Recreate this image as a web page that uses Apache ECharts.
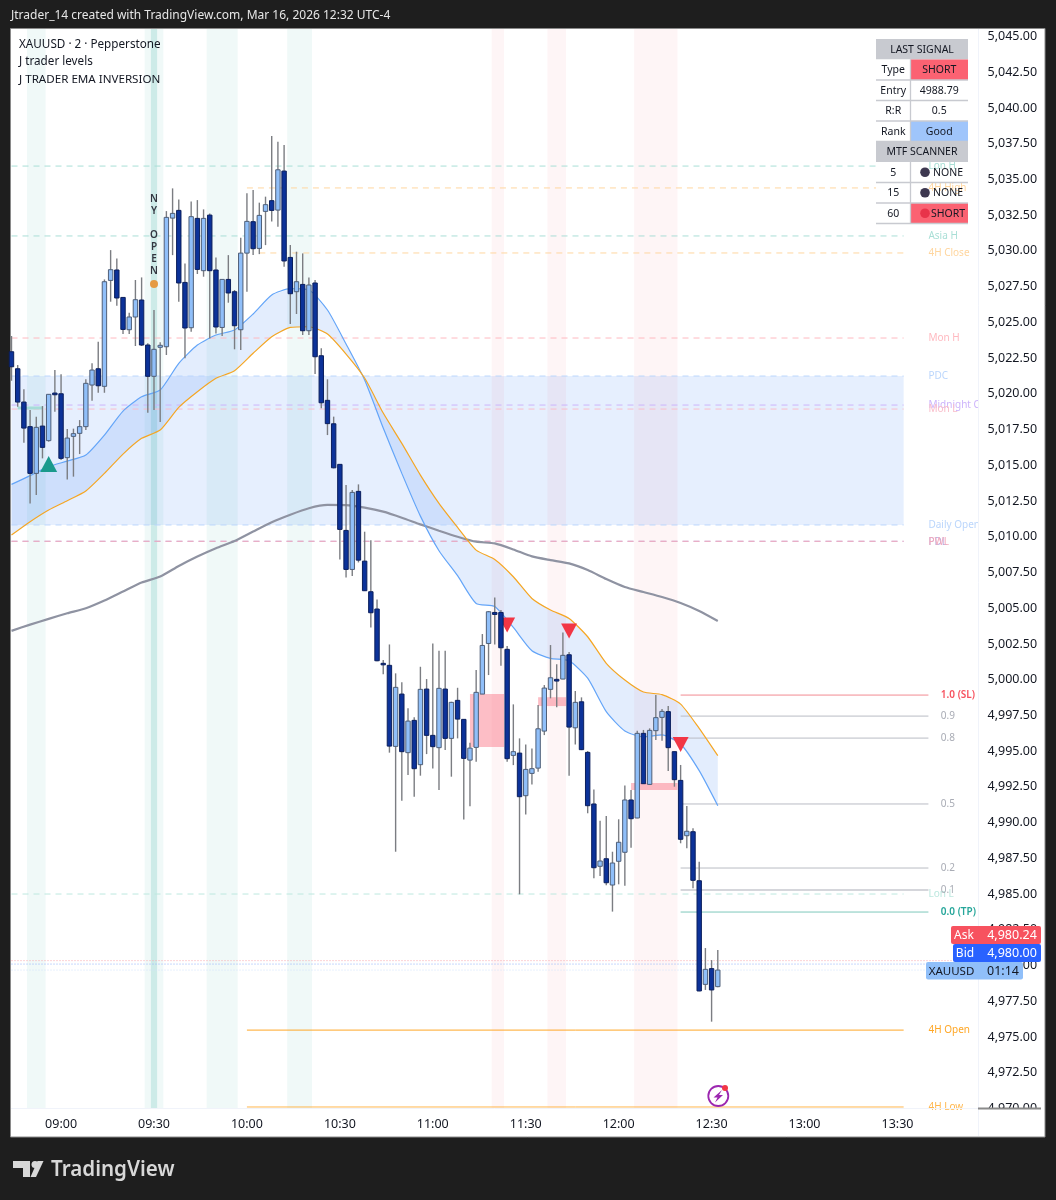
<!DOCTYPE html>
<html>
<head>
<meta charset="utf-8">
<title>XAUUSD</title>
<script src="https://cdn.jsdelivr.net/npm/echarts@6/dist/echarts.min.js"></script>
<style>
html, body { margin: 0; padding: 0; background: #1e1e1e; }
#chart { width: 1056px; height: 1200px; }
</style>
</head>
<body>
<div id="chart"></div>
<script>
var FONT = '"Noto Sans", sans-serif';

// candles, one row per 2 minute bar, first bar is 08:44
var opens = [5022.84,5021.65,5019.32,5017.60,5014.33,5017.64,5016.62,5019.95,5019.90,5015.43,
  5016.92,5017.13,5017.60,5020.51,5021.65,5020.42,5027.83,5028.56,5026.64,5024.38,
  5025.27,5026.46,5023.31,5021.12,5023.15,5023.19,5032.19,5032.73,5027.69,5024.52,
  5032.17,5028.51,5032.40,5028.56,5024.54,5027.90,5027.04,5024.38,5029.74,5031.94,
  5030.07,5032.66,5033.41,5032.75,5035.48,5029.44,5027.04,5027.55,5024.31,5027.65,
  5022.56,5019.44,5017.80,5014.96,5010.34,5007.61,5013.07,5008.19,5006.05,5004.84,
  5001.04,5000.90,4995.23,4998.89,4994.79,4997.05,4993.95,4999.24,4996.00,4995.14,
  4999.24,4995.79,4998.45,4997.12,4994.27,4995.16,4998.89,5002.43,5004.60,5004.60,
  5002.02,4994.60,4994.76,4991.78,4993.34,4993.71,4996.30,4999.22,4999.92,4999.94,
  5001.64,4996.53,4998.35,4994.81,4991.20,4986.84,4987.37,4985.53,4987.19,4987.82,
  4991.48,4990.22,4996.14,4992.57,4996.33,4997.26,4997.66,4994.86,4992.85,4988.98,
  4989.26,4985.83,4978.58,4979.68,4978.42];
var closes = [5021.79,5019.32,5017.50,5014.33,5017.55,5016.15,5019.86,5019.83,5015.38,5016.80,
  5017.11,5017.60,5020.63,5021.56,5020.46,5027.74,5028.58,5026.60,5024.40,5025.27,
  5026.48,5023.31,5021.12,5023.01,5023.29,5032.24,5032.52,5027.65,5024.50,5032.29,
  5028.60,5032.17,5028.51,5024.57,5027.90,5026.95,5024.66,5029.74,5031.96,5030.05,
  5032.38,5033.13,5032.73,5035.57,5029.19,5026.90,5027.74,5024.31,5027.51,5022.49,
  5019.27,5017.81,5014.72,5010.41,5007.61,5013.00,5008.26,5006.12,5004.58,5001.22,
  5000.97,4995.25,4999.36,4994.86,4997.00,4993.67,4999.22,4996.00,4995.21,4999.29,
  4995.79,4998.31,4997.14,4994.39,4995.11,4999.01,5002.29,5004.65,5004.46,5002.13,
  4994.37,4994.86,4991.71,4993.62,4993.67,4996.46,4999.31,5000.03,4999.80,5001.60,
  4996.58,4998.31,4995.00,4991.08,4986.74,4987.21,4985.69,4987.07,4988.52,4991.48,
  4990.17,4996.14,4992.62,4996.35,4997.24,4997.68,4995.14,4992.90,4988.73,4989.29,
  4985.86,4978.12,4979.63,4978.19,4979.58];
var lows = [5020.81,5018.99,5016.48,5012.23,5012.81,5015.38,5016.55,5018.64,5015.26,5013.91,
  5014.10,5015.68,5017.36,5019.41,5019.97,5019.97,5026.34,5026.06,5024.08,5024.08,
  5023.24,5023.24,5018.57,5018.76,5017.92,5022.61,5029.60,5026.34,5022.38,5024.24,
  5028.28,5028.09,5023.77,5024.12,5023.94,5026.27,5023.01,5022.96,5027.04,5029.60,
  5029.67,5030.30,5031.96,5031.59,5028.79,5024.78,5025.48,5024.01,5024.01,5021.28,
  5018.88,5017.01,5014.68,5008.31,5007.05,5007.15,5008.10,5006.10,5003.55,5001.18,
  5000.27,4994.79,4987.86,4991.43,4993.22,4991.71,4993.18,4994.69,4993.69,4992.17,
  4994.97,4993.11,4995.79,4990.12,4991.05,4994.16,4998.89,5000.22,5002.36,5000.87,
  4994.16,4993.92,4984.88,4990.47,4992.57,4993.46,4996.02,4998.59,4997.96,4999.92,
  4993.18,4995.37,4994.97,4990.55,4986.00,4986.16,4985.51,4983.67,4985.58,4985.48,
  4988.14,4990.20,4992.60,4992.55,4995.68,4995.63,4993.51,4992.41,4988.45,4988.10,
  4985.30,4978.10,4978.19,4975.97,4978.37];
var highs = [5023.94,5021.91,5020.21,5018.76,5018.29,5019.04,5019.86,5021.56,5021.26,5017.43,
  5017.46,5018.06,5020.91,5022.03,5023.54,5027.90,5029.95,5029.37,5026.64,5025.57,
  5027.86,5028.04,5023.43,5025.76,5023.50,5032.68,5034.27,5033.50,5029.02,5033.36,
  5033.45,5032.80,5032.52,5029.44,5027.90,5029.60,5027.16,5030.82,5033.92,5034.15,
  5033.27,5033.69,5037.93,5037.53,5037.30,5030.30,5029.84,5029.72,5028.04,5027.86,
  5023.08,5020.91,5018.30,5014.96,5013.51,5013.16,5013.56,5010.25,5009.66,5005.51,
  5001.27,5002.36,5000.34,4999.71,4997.89,4997.26,5000.80,4999.94,5002.43,5001.92,
  5001.92,4998.35,4999.33,4997.14,4995.49,5000.57,5003.09,5004.70,5005.65,5004.77,
  5002.25,4998.17,4995.79,4995.37,4995.09,4998.12,4999.52,5002.32,5000.97,5003.20,
  5001.83,4999.10,4998.66,4994.90,4992.22,4990.03,4990.36,4987.86,4990.13,4992.50,
  4992.18,4996.33,4996.38,4996.49,4998.82,4997.84,4998.05,4994.86,4993.93,4991.06,
  4989.50,4987.16,4981.12,4980.28,4980.98];

// EMAs read every third bar
var emaBars = [0,3,6,9,12,15,18,21,24,27,30,33,36,39,42,45,48,51,54,57,60,63,66,69,72,75,78,81,84,87,90,93,96,99,102,105,108,111,114];
var fastEma = [5013.56,5014.17,5014.80,5015.19,5015.61,5017.01,5018.69,5019.69,5020.16,5022.03,
  5023.31,5024.01,5024.36,5025.48,5026.81,5027.25,5027.16,5025.76,5023.38,5020.86,
  5017.50,5014.33,5011.34,5008.92,5007.17,5005.23,5005.02,5003.55,5001.92,5001.39,
  5001.22,5000.00,4997.66,4996.31,4995.89,4996.03,4995.40,4993.53,4991.08];
var slowEma = [5010.02,5010.95,5011.77,5012.42,5013.10,5014.33,5015.68,5016.78,5017.36,5018.95,
  5020.04,5020.98,5021.51,5022.73,5023.89,5024.54,5024.59,5024.08,5022.68,5021.00,
  5018.55,5016.43,5014.21,5012.23,5010.55,5008.96,5008.31,5007.10,5005.58,5004.77,
  5004.18,5002.90,5001.04,4999.87,4999.03,4998.85,4998.19,4996.49,4994.58];
var longEma = [5003.31,5003.75,5004.15,5004.54,5004.89,5005.43,5006.06,5006.69,5007.11,5007.85,
  5008.51,5009.09,5009.60,5010.26,5010.91,5011.44,5011.89,5012.12,5012.11,5011.93,
  5011.65,5011.23,5010.76,5010.32,5009.90,5009.55,5009.43,5009.01,5008.52,5008.26,
  5008.03,5007.57,5006.94,5006.38,5006.03,5005.68,5005.26,5004.70,5004.00];

// axis labels
var timeTicks = ['09:00','09:30','10:00','10:30','11:00','11:30','12:00','12:30','13:00','13:30'];
var priceTicks = [5045,5042.5,5040,5037.5,5035,5032.5,5030,5027.5,5025,5022.5,5020,5017.5,5015,5012.5,5010,
  5007.5,5005,5002.5,5000,4997.5,4995,4992.5,4990,4987.5,4985,4982.5,4980,4977.5,4975,4972.5,4970];

// horizontal session levels
var levelNames = ['Lon H','4H High','Asia H','4H Close','Mon H','PDC','Midnight Open','Mon L','Daily Open','PDL','PWL','Lon L','4H Open','4H Low'];
var levelPrices = [5035.83,5034.30,5030.94,5029.75,5023.80,5021.14,5019.11,5018.83,5010.72,5009.58,5009.58,4984.90,4975.38,4970.00];
var levelStarts = [0,38,0,40,0,0,0,0,0,0,0,0,38,38];
var levelColors = ['#a9dfd6','#ffd69f','#a9dfd6','#ffd69f','#ffb9c0','#bbd6fc','#cdb4fb','#f9bcc9','#bbd6fc','#b9a9dc','#f3a9bd','#bde8df','#ffa726','#ffb74d'];
var levelSolid = [false,false,false,false,false,false,false,false,false,false,false,false,true,true];

// fib ladder of the last signal
var fibNames = ['1.0 (SL)','0.9','0.8','0.5','0.2','0.1','0.0 (TP)'];
var fibPrices = [4998.82,4997.35,4995.81,4991.20,4986.72,4985.18,4983.64];
var fibLineColors = ['#f28b92','#b9bcc4','#b9bcc4','#b9bcc4','#b9bcc4','#d5d6db','#7fc8bb'];
var fibTextColors = ['#f7525f','#a9acb5','#a9acb5','#a9acb5','#a9acb5','#a9acb5','#26a69a'];

// last price dotted lines
var quotePrices = [4980.24,4980.00,4979.58];
var quoteColors = ['#f7a5ac','#8fb0fb','#cfe2fb'];

// shaded sessions, first bar and last bar
var greenSessions = [[3,5],[22,24],[32,36],[45,48]];
var greenCore = [[23,23]];
var redSessions = [[78,79],[87,89],[101,107]];

// premium box PDC to Daily Open and the three supply boxes
var pdcZone = [0,144,5021.14,5010.72];
var supplyZones = [[74,79,4998.89,4995.18],[85,89,4998.67,4998.05],[100,107,4992.67,4992.18]];

var buySignals = [[6,5014.98]];
var sellSignals = [[80,5003.72],[90,5003.30],[108,4995.36]];

var signalRows = [['Type','SHORT'],['Entry','4988.79'],['R:R','0.5'],['Rank','Good']];
var scannerRows = [['5','NONE'],['15','NONE'],['60','SHORT']];

var timeSlots = [];
for (var m = 8 * 60 + 44; m <= 13 * 60 + 56; m += 2) {
    var hh = Math.floor(m / 60), mm = m % 60;
    timeSlots.push((hh < 10 ? '0' : '') + hh + ':' + (mm < 10 ? '0' : '') + mm);
}

function pairs(bars, vals) {
    return bars.map(function (b, i) { return [b, vals[i]]; });
}

function renderSessions(list, color) {
    return function (params, api) {
        var s = list[params.dataIndex];
        var step = api.size([1, 0])[0];
        var x1 = api.coord([s[0], 5000])[0] - step / 2;
        var x2 = api.coord([s[1], 5000])[0] + step / 2;
        var cs = params.coordSys;
        return { type: 'rect', shape: { x: x1, y: cs.y, width: x2 - x1, height: cs.height }, style: { fill: color } };
    };
}

function sessionSeries(list, color, z) {
    return {
        type: 'custom', z: z, silent: true,
        renderItem: renderSessions(list, color),
        data: list.map(function (s) { return [s[0], 5000]; })
    };
}

function renderCandle(params, api) {
    var i = api.value(0);
    var o = api.coord([i, api.value(1)]);
    var c = api.coord([i, api.value(2)]);
    var l = api.coord([i, api.value(3)]);
    var h = api.coord([i, api.value(4)]);
    var up = api.value(2) >= api.value(1);
    var top = Math.min(o[1], c[1]);
    var bh = Math.max(Math.abs(o[1] - c[1]), 1.5);
    return {
        type: 'group',
        children: [
            { type: 'line', shape: { x1: h[0], y1: h[1], x2: l[0], y2: l[1] }, style: { stroke: '#7b7d82', lineWidth: 1.4 } },
            { type: 'rect', shape: { x: h[0] - 2.2, y: top, width: 4.4, height: bh },
              style: { fill: up ? '#90bff9' : '#0c3299', stroke: up ? '#4f5f78' : '#0b1f5c', lineWidth: 1 } }
        ]
    };
}

function renderLevel(params, api) {
    var i = params.dataIndex;
    var p1 = api.coord([levelStarts[i], levelPrices[i]]);
    var p2 = api.coord([144, levelPrices[i]]);
    var p3 = api.coord([148, levelPrices[i]]);
    return {
        type: 'group',
        children: [
            { type: 'line', shape: { x1: p1[0], y1: p1[1], x2: p2[0], y2: p2[1] },
              style: { stroke: levelColors[i], lineWidth: 1, lineDash: levelSolid[i] ? null : [6, 5] } },
            { type: 'text', style: { text: levelNames[i], x: p3[0], y: p3[1] + 0.5, fill: levelColors[i],
              fontSize: 10, fontFamily: FONT, align: 'left', verticalAlign: 'middle' },
              clipPath: { type: 'rect', shape: { x: p3[0], y: p3[1] - 12, width: params.coordSys.x + params.coordSys.width - p3[0], height: 24 } } }
        ]
    };
}

function renderFib(params, api) {
    var i = params.dataIndex;
    var p1 = api.coord([108, fibPrices[i]]);
    var p2 = api.coord([148, fibPrices[i]]);
    var p3 = api.coord([150, fibPrices[i]]);
    var edge = i == 0 || i == fibNames.length - 1;
    return {
        type: 'group',
        children: [
            { type: 'line', shape: { x1: p1[0], y1: p1[1], x2: p2[0], y2: p2[1] },
              style: { stroke: fibLineColors[i], lineWidth: i == 5 ? 2 : 1 } },
            { type: 'text', style: { text: fibNames[i], x: p3[0], y: p3[1] + 0.5, fill: fibTextColors[i],
              fontSize: 10, fontFamily: FONT, fontWeight: edge ? 600 : 'normal', align: 'left', verticalAlign: 'middle' } }
        ]
    };
}

function renderQuote(params, api) {
    var i = params.dataIndex;
    var p = api.coord([0, quotePrices[i]]);
    var cs = params.coordSys;
    return { type: 'line', shape: { x1: cs.x, y1: p[1], x2: cs.x + cs.width, y2: p[1] },
        style: { stroke: quoteColors[i], lineWidth: 1, lineDash: [1, 2] } };
}

function zoneSeries(list, color, z, halfEnd) {
    return {
        type: 'custom', z: z, silent: true,
        renderItem: function (params, api) {
            var b = list[params.dataIndex];
            var step = api.size([1, 0])[0];
            var a = api.coord([b[0], b[2]]);
            var c = api.coord([b[1], b[3]]);
            return { type: 'rect', shape: { x: a[0], y: a[1], width: c[0] - a[0] + (halfEnd ? step / 2 : 0), height: c[1] - a[1] }, style: { fill: color } };
        },
        data: list.map(function (b) { return [b[0], b[2]]; })
    };
}

function renderBand(params, api) {
    var pts = [], i;
    for (i = 0; i < emaBars.length; i++) pts.push(api.coord([emaBars[i], fastEma[i]]));
    for (i = emaBars.length - 1; i >= 0; i--) pts.push(api.coord([emaBars[i], slowEma[i]]));
    return { type: 'polygon', shape: { points: pts }, style: { fill: 'rgba(80,140,245,0.16)' } };
}

function emaSeries(vals, color, width) {
    return {
        type: 'line', z: 4, silent: true, showSymbol: false, symbol: 'none', smooth: 0.2,
        lineStyle: { color: color, width: width },
        data: pairs(emaBars, vals)
    };
}

// overlays that sit on the canvas and not on the scales
function txt(x, y, text, size, color, align, weight, z) {
    return { type: 'text', z: z || 60, silent: true,
        style: { x: x, y: y, text: text, fontSize: size, fontFamily: FONT, fill: color, align: align || 'left', verticalAlign: 'middle', fontWeight: weight || 'normal' } };
}

function box(x, y, w, h, fill, z, stroke, r) {
    return { type: 'rect', z: z || 50, silent: true, shape: { x: x, y: y, width: w, height: h, r: r || 0 },
        style: { fill: fill, stroke: stroke || null, lineWidth: stroke ? 1 : 0 } };
}

function rule(x1, y1, x2, y2, color, width, z) {
    return { type: 'line', z: z || 55, silent: true, shape: { x1: x1, y1: y1, x2: x2, y2: y2 }, style: { stroke: color, lineWidth: width } };
}

function tableGraphics() {
    var g = [], x0 = 876, x1 = 910.5, x2 = 968, y = 39, h = 20.5, top;
    g.push(box(x0, y, x2 - x0, h, '#c8cad0'));
    g.push(txt((x0 + x2) / 2, y + h / 2 + 0.5, 'LAST SIGNAL', 10.5, '#131722', 'center'));
    y += h;
    top = y;
    signalRows.forEach(function (r, i) {
        var fill = i == 0 ? '#fb6272' : (i == 3 ? '#9fc5fb' : '#ffffff');
        g.push(box(x0, y, x1 - x0, h, '#ffffff'));
        g.push(box(x1, y, x2 - x1, h, fill));
        g.push(rule(x0, y + h, x2, y + h, '#c8cad0', 1.3));
        g.push(txt((x0 + x1) / 2, y + h / 2 + 0.5, r[0], 10.5, '#131722', 'center'));
        g.push(txt((x1 + x2) / 2, y + h / 2 + 0.5, r[1], 10.5, '#131722', 'center'));
        y += h;
    });
    g.push(rule(x1, top, x1, y, '#c8cad0', 1.3));
    g.push(box(x0, y, x2 - x0, h, '#c8cad0'));
    g.push(txt((x0 + x2) / 2, y + h / 2 + 0.5, 'MTF SCANNER', 10.5, '#131722', 'center'));
    y += h;
    top = y;
    scannerRows.forEach(function (r) {
        var shortRow = r[1] == 'SHORT';
        g.push(box(x0, y, x1 - x0, h, '#ffffff'));
        if (shortRow) g.push(box(x1, y, x2 - x1, h, '#fb6272'));
        g.push(rule(x0, y + h, x2, y + h, '#c8cad0', 1.3));
        g.push(txt((x0 + x1) / 2, y + h / 2 + 0.5, r[0], 10.5, '#131722', 'center'));
        g.push({ type: 'circle', z: 60, silent: true, shape: { cx: 925, cy: y + h / 2, r: 4.8 },
            style: { fill: shortRow ? '#e8344a' : '#3d3850' } });
        g.push(txt(948, y + h / 2 + 0.5, r[1], 10.5, '#131722', 'center'));
        y += h;
    });
    g.push(rule(x1, top, x1, y, '#c8cad0', 1.3));
    return g;
}

function overlayGraphics() {
    var g = [];
    // white panel under the plot
    g.push(box(10.5, 28.5, 1034.5, 1108.5, '#ffffff', -10, '#8a8a8a'));
    g.push(txt(11, 16, 'Jtrader_14 created with TradingView.com, Mar 16, 2026 12:32 UTC-4', 12, '#e6e6e6'));
    g.push(txt(19, 44.5, 'XAUUSD \u00b7 2 \u00b7 Pepperstone', 11.7, '#131722'));
    g.push(txt(19, 62, 'J trader levels', 11.7, '#131722'));
    g.push(txt(19, 79.5, 'J TRADER EMA INVERSION', 11.6, '#131722'));

    // axis separators
    g.push(rule(978.5, 29, 978.5, 1136, '#f0f3fa', 1, 40));
    g.push(rule(11, 1108.5, 978, 1108.5, '#f0f3fa', 1, 40));
    g.push(box(979, 1109, 62, 27, '#ffffff', 45));
    g.push(rule(978, 1108.5, 1041, 1108.5, '#8a8a8a', 2, 46));

    // price badges
    g.push(box(951, 926, 90, 18, '#f7525f', 70, null, 2));
    g.push(box(953, 944, 88, 18, '#2962ff', 70, null, 2));
    g.push(box(926, 962, 97, 17.5, '#90bff9', 70, null, 2));
    g.push(txt(964, 935.5, 'Ask', 12, '#ffffff', 'center', 'normal', 71));
    g.push(txt(1012, 935.5, '4,980.24', 12.5, '#ffffff', 'center', 'normal', 71));
    g.push(txt(965, 953.5, 'Bid', 12, '#ffffff', 'center', 'normal', 71));
    g.push(txt(1012, 953.5, '4,980.00', 12.5, '#ffffff', 'center', 'normal', 71));
    g.push(txt(951.5, 971.5, 'XAUUSD', 11.5, '#131722', 'center', 'normal', 71));
    g.push(txt(1003, 971.5, '01:14', 12.5, '#131722', 'center', 'normal', 71));

    // lightning badge
    g.push({ type: 'circle', z: 30, silent: true, shape: { cx: 718.3, cy: 1096, r: 10 }, style: { fill: '#ffffff', stroke: '#9c27b0', lineWidth: 1.8 } });
    g.push({ type: 'polygon', z: 31, silent: true, shape: { points: [[722, 1090], [713.5, 1097.5], [717.5, 1097.5], [715, 1102.5], [723, 1095], [719, 1095]] }, style: { fill: '#9c27b0' } });
    g.push({ type: 'circle', z: 32, silent: true, shape: { cx: 725, cy: 1088, r: 3 }, style: { fill: '#f23645' } });

    // TradingView logo
    g.push({ type: 'polygon', silent: true, z: 5, shape: { points: [[13, 1161], [30, 1161], [30, 1177], [23, 1177], [23, 1168], [13, 1168]] }, style: { fill: '#d8d8d8' } });
    g.push({ type: 'circle', silent: true, z: 5, shape: { cx: 35, cy: 1164.5, r: 3.5 }, style: { fill: '#d8d8d8' } });
    g.push({ type: 'polygon', silent: true, z: 5, shape: { points: [[37.5, 1161], [43.5, 1161], [36, 1177], [30.5, 1177]] }, style: { fill: '#d8d8d8' } });
    g.push(txt(51, 1170, 'TradingView', 20.6, '#d8d8d8', 'left', '600', 5));
    return g.concat(tableGraphics());
}

var myChart = echarts.init(document.getElementById('chart'), null, { renderer: 'canvas' });

var option = {
    animation: false,
    backgroundColor: '#1e1e1e',
    textStyle: { fontFamily: FONT },
    grid: { left: 11.5, right: 78, top: 29, bottom: 92, containLabel: false },
    xAxis: {
        type: 'category',
        data: timeSlots,
        boundaryGap: false,
        axisLine: { show: false },
        axisTick: { show: false },
        splitLine: { show: false },
        axisLabel: {
            interval: function (index, value) { return timeTicks.indexOf(value) >= 0; },
            color: '#131722', fontSize: 12.5, fontFamily: FONT, margin: 10
        }
    },
    yAxis: {
        type: 'value',
        position: 'right',
        min: 4969.93,
        max: 5045.42,
        scale: true,
        axisLine: { show: false },
        axisTick: { show: false },
        splitLine: { show: false },
        axisLabel: {
            customValues: priceTicks,
            color: '#131722', fontSize: 12.5, fontFamily: FONT, margin: 9.5,
            verticalAlign: 'top', lineHeight: 3,
            formatter: function (v) {
                return v.toLocaleString('en-US', { minimumFractionDigits: 2, maximumFractionDigits: 2 });
            }
        }
    },
    graphic: overlayGraphics(),
    series: [
        zoneSeries([pdcZone], 'rgba(80,140,245,0.14)', 1, false),
        sessionSeries(greenSessions, 'rgba(38,166,154,0.07)', 1),
        sessionSeries(greenCore, 'rgba(38,166,154,0.17)', 1),
        sessionSeries(redSessions, 'rgba(242,54,69,0.05)', 1),
        zoneSeries(supplyZones, 'rgba(250,100,120,0.42)', 2, true),
        { type: 'custom', z: 2, silent: true, renderItem: renderBand, data: [[0, slowEma[0]]] },
        { type: 'custom', z: 3, silent: true, renderItem: renderLevel, data: levelPrices.map(function (p, i) { return [i, p]; }) },
        { type: 'custom', z: 3, silent: true, renderItem: renderFib, data: fibPrices.map(function (p, i) { return [i, p]; }) },
        { type: 'custom', z: 3, silent: true, renderItem: renderQuote, data: quotePrices.map(function (p, i) { return [i, p]; }) },
        {
            type: 'line', z: 3, silent: true, symbol: 'none',
            lineStyle: { color: '#a6dcd8', width: 3 },
            data: [[1, 5018.90], [5, 5018.90]]
        },
        emaSeries(longEma, '#8f93a2', 2.2),
        emaSeries(fastEma, '#64a5f8', 1.2),
        emaSeries(slowEma, '#f5a623', 1.2),
        {
            type: 'scatter', z: 4, silent: true, symbol: 'triangle', symbolSize: [17, 16],
            itemStyle: { color: '#1a9a8c', opacity: 1 },
            data: buySignals
        },
        {
            type: 'scatter', z: 4, silent: true, symbol: 'triangle', symbolRotate: 180, symbolSize: [16, 15],
            itemStyle: { color: '#f23645', opacity: 1 },
            data: sellSignals
        },
        {
            type: 'custom', z: 5, silent: true,
            renderItem: renderCandle,
            encode: { x: 0, y: [1, 2, 3, 4] },
            data: opens.map(function (o, i) { return [i, o, closes[i], lows[i], highs[i]]; })
        },
        {
            type: 'scatter', z: 6, silent: true, symbolSize: 8,
            itemStyle: { color: '#e59a43', opacity: 1 },
            label: {
                show: true, position: 'top', distance: 3, formatter: 'N\nY\n\nO\nP\nE\nN',
                color: '#333640', fontSize: 10, lineHeight: 12, fontFamily: FONT, fontWeight: 600
            },
            data: [[23, 5027.58]]
        }
    ]
};

myChart.setOption(option);
</script>
</body>
</html>
